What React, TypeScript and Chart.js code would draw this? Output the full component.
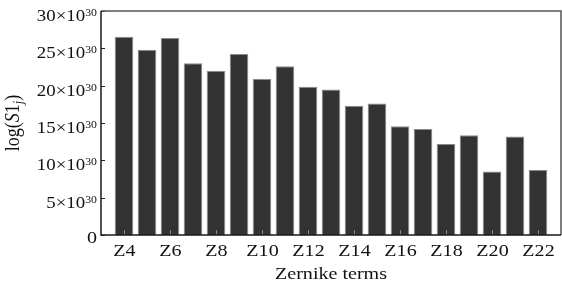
import React, { useEffect, useRef } from 'react';
import { Chart, registerables } from 'chart.js';

Chart.register(...registerables);

const terms = ['Z4', 'Z5', 'Z6', 'Z7', 'Z8', 'Z9', 'Z10', 'Z11', 'Z12', 'Z13', 'Z14', 'Z15', 'Z16', 'Z17', 'Z18', 'Z19', 'Z20', 'Z21', 'Z22'];
const values = [26.56, 24.8, 26.4, 23.0, 21.96, 24.24, 20.9, 22.6, 19.86, 19.5, 17.3, 17.6, 14.56, 14.2, 12.2, 13.35, 8.5, 13.2, 8.7];
const xTickLabels = ['Z4', 'Z6', 'Z8', 'Z10', 'Z12', 'Z14', 'Z16', 'Z18', 'Z20', 'Z22'];
const yTickValues = [0, 5, 10, 15, 20, 25, 30];
const yExponent = '30';
const xTitle = 'Zernike terms';

const SERIF = '"Liberation Serif", "Times New Roman", serif';
const SX = 1.18;

function drawText(ctx: CanvasRenderingContext2D, text: string, x: number, y: number, font: string, align: 'left' | 'center' | 'right') {
  ctx.save();
  ctx.font = font;
  ctx.textBaseline = 'alphabetic';
  ctx.textAlign = 'left';
  const w = ctx.measureText(text).width * SX;
  const left = align === 'left' ? x : align === 'center' ? x - w / 2 : x - w;
  ctx.translate(left, y);
  ctx.scale(SX, 1);
  ctx.fillText(text, 0, 0);
  ctx.restore();
  return w;
}

const decorPlugin = {
  id: 'decor',
  afterDraw(chart: any) {
    const ctx: CanvasRenderingContext2D = chart.ctx;
    const area = chart.chartArea;
    const xs = chart.scales.x;
    const ys = chart.scales.y;
    ctx.save();
    ctx.fillStyle = '#111';
    ctx.strokeStyle = '#1a1a1a';

    ctx.lineWidth = 1;
    yTickValues.forEach((v) => {
      const py = Math.round(ys.getPixelForValue(v)) + 0.5;
      ctx.strokeStyle = '#222';
      ctx.beginPath();
      ctx.moveTo(area.left, py);
      ctx.lineTo(area.left + 4, py);
      ctx.stroke();
      const right = area.left - 4;
      if (v === 0) {
        drawText(ctx, '0', right, py + 7, `17px ${SERIF}`, 'right');
      } else {
        ctx.save();
        ctx.font = `10px ${SERIF}`;
        const supW = ctx.measureText(yExponent).width * SX;
        ctx.restore();
        const base = py + 9.5;
        drawText(ctx, yExponent, right, base - 5, `10px ${SERIF}`, 'right');
        drawText(ctx, `${v}×10`, right - supW, base, `16px ${SERIF}`, 'right');
      }
    });

    xTickLabels.forEach((lab) => {
      const idx = terms.indexOf(lab);
      const px = Math.round(xs.getPixelForValue(idx + 1)) + 0.5;
      ctx.strokeStyle = '#888';
      ctx.beginPath();
      ctx.moveTo(px, area.bottom);
      ctx.lineTo(px, area.bottom - 5);
      ctx.stroke();
      drawText(ctx, lab, px, area.bottom + 21, `17px ${SERIF}`, 'center');
    });

    drawText(ctx, xTitle, (area.left + area.right) / 2, area.bottom + 44, `17px ${SERIF}`, 'center');

    const parts = [
      { t: 'log(', f: `18px ${SERIF}`, dy: 0 },
      { t: 'S', f: `italic 18px ${SERIF}`, dy: 0 },
      { t: '1', f: `18px ${SERIF}`, dy: 0 },
      { t: 'j', f: `italic 12px ${SERIF}`, dy: 4 },
      { t: ')', f: `18px ${SERIF}`, dy: 0 },
    ];
    let total = 0;
    parts.forEach((p) => {
      ctx.font = p.f;
      total += ctx.measureText(p.t).width;
    });
    ctx.save();
    ctx.translate(18.5, (area.top + area.bottom) / 2 + total / 2);
    ctx.scale(SX, 1);
    ctx.rotate(-Math.PI / 2);
    ctx.textBaseline = 'alphabetic';
    ctx.textAlign = 'left';
    let cx = 0;
    parts.forEach((p) => {
      ctx.font = p.f;
      ctx.fillText(p.t, cx, p.dy);
      cx += ctx.measureText(p.t).width;
    });
    ctx.restore();

    ctx.lineWidth = 1.5;
    ctx.strokeStyle = '#555';
    ctx.beginPath();
    ctx.moveTo(area.left, area.top);
    ctx.lineTo(area.right, area.top);
    ctx.lineTo(area.right, area.bottom);
    ctx.stroke();
    ctx.strokeStyle = '#1a1a1a';
    ctx.beginPath();
    ctx.moveTo(area.left, area.top);
    ctx.lineTo(area.left, area.bottom);
    ctx.lineTo(area.right, area.bottom);
    ctx.stroke();
    ctx.restore();
  },
};

export default function App() {
  const ref = useRef<HTMLCanvasElement | null>(null);
  useEffect(() => {
    if (!ref.current) return;
    const chart = new Chart(ref.current, {
      type: 'bar',
      data: {
        datasets: [
          {
            data: values.map((v, i) => ({ x: i + 1, y: v })),
            backgroundColor: '#333333',
            borderColor: '#8a8a8a',
            borderWidth: 1,
            barPercentage: 0.81,
            categoryPercentage: 1,
          },
        ],
      },
      options: {
        responsive: false,
        animation: false,
        devicePixelRatio: 1,
        layout: { padding: { left: 101, right: 1, top: 11, bottom: 51 } },
        plugins: { legend: { display: false }, tooltip: { enabled: false } },
        scales: {
          x: { type: 'linear', min: 0, max: 20, offset: false, display: false },
          y: { min: 0, max: 30, display: false },
        },
      },
      plugins: [decorPlugin],
    });
    return () => chart.destroy();
  }, []);
  return (
    <div style={{ position: 'fixed', left: 0, top: 0, width: 562, height: 286, background: '#fff' }}>
      <canvas ref={ref} width={562} height={286} style={{ display: 'block' }} />
    </div>
  );
}
